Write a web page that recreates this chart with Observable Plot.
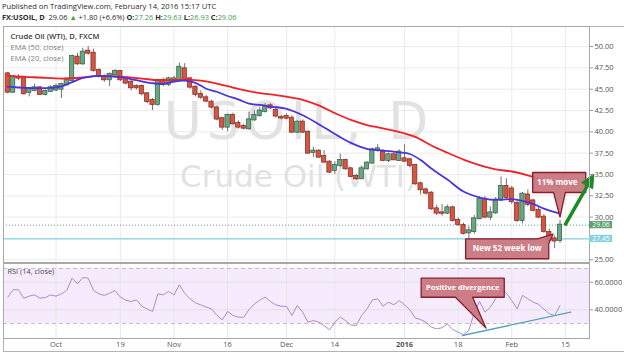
<!DOCTYPE html>
<html><head><meta charset="utf-8">
<script src="https://cdn.jsdelivr.net/npm/d3@7"></script>
<script src="https://cdn.jsdelivr.net/npm/@observablehq/plot@0.6"></script>
<style>
html,body{margin:0;padding:0;background:#fff}
body{width:624px;height:354px;position:relative;overflow:hidden;font-family:"Open Sans",sans-serif}
.hdr{position:absolute;left:2px;white-space:nowrap;color:#2b2b2b;line-height:1}
#h1{top:3px;font-size:7.6px}
#h2{top:14px;font-size:7.4px}
.g{color:#3aa14a}
.b{font-weight:700}
#outer{position:absolute;left:3px;top:26px;width:640px;height:326px;border:1px solid #b4b4b4;box-sizing:border-box}
#price{position:absolute;left:0;top:26px}
#rsi{position:absolute;left:0;top:262px}
</style></head><body>
<div id="h1" class="hdr"></div>
<div id="h2" class="hdr"></div>
<div id="outer"></div>
<div id="price"></div>
<div id="rsi"></div>
<script>
// ---------- header text ----------
const publishedText = "Published on TradingView.com, February 14, 2016 15:17 UTC";
const symbolText = "FX:USOIL, D";
const changeText = "+1.80 (+6.6%)";
const watermark = ["USOIL, D", "Crude Oil (WTI)"];
const legendText = ["Crude Oil (WTI), D, FXCM", "EMA (50, close)", "EMA (20, close)"];
const rsiLabel = "RSI (14, close)";

// ---------- daily bars (index 0 = Sep 18 2015 ... 103 = Feb 12 2016) ----------
const open = [46.80,44.65,46.35,46.41,44.60,44.85,45.16,44.38,44.73,44.90,
  45.00,45.51,46.02,48.76,47.97,49.46,49.22,47.19,46.49,46.10,
  46.68,47.07,46.10,45.82,45.32,45.32,44.46,43.67,43.21,46.02,
  45.55,46.02,46.10,47.39,46.21,45.24,44.40,43.99,43.48,42.80,
  41.53,40.55,41.92,41.00,40.63,40.35,41.40,41.92,42.40,43.05,
  42.50,41.66,41.80,41.60,39.96,41.14,39.96,37.58,37.74,37.10,
  36.45,35.47,36.06,36.64,35.66,34.77,34.49,35.66,36.33,37.81,
  37.62,36.64,37.31,36.64,36.84,36.72,36.06,33.91,33.20,32.81,
  30.97,30.50,30.47,31.09,29.60,29.02,28.15,28.30,29.80,32.10,
  30.00,30.50,32.00,33.60,33.30,31.60,29.60,32.60,31.90,30.80,
  30.00,28.20,27.45,27.26];
const high = [46.95,46.60,46.70,46.50,45.20,45.60,45.30,44.90,45.40,45.60,
  45.70,46.30,49.00,49.20,49.80,50.00,49.70,47.40,46.70,46.90,
  47.30,47.20,46.30,46.00,45.50,45.50,44.60,43.90,46.20,46.30,
  46.40,46.50,48.05,48.00,46.40,45.40,44.80,44.30,43.70,43.00,
  41.70,42.10,42.20,41.30,40.90,42.30,42.50,42.90,43.30,43.30,
  42.70,41.90,42.10,41.90,41.30,41.40,40.10,38.20,37.90,37.80,
  36.60,36.50,37.40,36.80,35.80,35.00,35.90,36.50,38.10,38.50,
  37.90,37.50,37.50,37.90,38.50,36.90,36.20,34.10,33.40,33.00,
  31.40,31.50,31.40,31.30,29.90,29.30,28.90,30.20,32.40,32.40,
  31.20,32.30,34.70,34.50,33.60,31.90,32.90,33.20,32.10,31.20,
  30.30,28.60,27.80,29.63];
const low = [44.45,44.50,46.00,44.30,44.10,44.70,44.30,44.20,44.60,44.70,
  43.90,45.40,45.90,47.80,47.80,49.00,47.00,46.30,45.80,45.30,
  46.50,45.90,45.50,44.80,44.90,44.20,43.30,42.50,43.00,45.30,
  45.30,45.80,45.90,45.90,45.00,44.10,43.80,43.40,42.70,41.30,
  40.16,40.00,40.80,40.30,40.20,40.20,41.20,41.70,42.20,42.60,
  41.60,41.40,41.40,39.80,39.80,39.80,37.40,37.00,36.90,36.30,
  35.10,35.00,35.80,35.50,34.60,34.30,34.40,35.50,36.20,37.60,
  36.50,36.40,36.60,36.50,36.40,35.80,33.70,32.60,32.60,30.80,
  30.20,30.10,30.30,29.40,28.90,27.90,27.45,28.00,29.70,29.80,
  29.60,30.30,31.80,32.10,31.50,29.40,29.20,31.20,30.60,29.80,
  28.10,27.00,26.30,26.93];
const close = [44.65,46.41,46.30,44.46,45.00,45.16,44.38,44.73,45.16,45.30,
  45.55,46.10,48.83,47.97,49.34,49.22,47.19,46.49,46.10,46.72,
  47.07,46.10,45.71,45.16,45.16,44.46,43.56,43.21,46.02,45.55,
  46.21,46.21,47.58,46.10,45.24,44.38,44.06,43.60,42.90,41.50,
  40.55,41.92,40.94,40.55,40.43,41.40,41.92,42.45,43.00,42.80,
  41.85,41.62,41.60,39.96,41.13,39.96,37.50,37.74,37.03,36.45,
  35.27,36.06,36.64,35.66,34.77,34.49,35.66,36.33,37.89,38.01,
  36.64,37.31,36.72,37.62,36.56,36.06,33.91,33.20,32.81,30.97,
  30.47,30.45,31.09,29.61,29.15,28.10,28.40,29.80,32.10,30.00,
  30.50,32.00,33.60,32.30,31.80,29.60,32.70,31.50,30.80,30.00,
  28.30,27.30,27.20,29.06];

// ---------- EMA lines ----------
const ema50Idx = [0,3,6,10,14,17,21,25,28,31,34,36,38,41,44,47,50,53,55,58,61,64,67,70,73,76,79,82,85,88,91,94,97,100,103];
const ema50Val = [46.60,46.45,46.37,46.25,46.37,46.55,46.48,46.25,46.05,46.10,46.10,46.00,45.80,45.35,44.90,44.55,44.30,44.00,43.75,43.10,42.20,41.40,40.80,40.40,39.98,39.40,38.40,37.55,36.75,36.10,35.60,35.35,34.90,34.30,33.60];
const ema20Idx = [0,2,5,8,10,12,14,16,18,21,24,27,29,31,33,35,37,39,41,43,45,47,49,52,55,58,61,64,67,70,73,75,77,79,82,85,88,90,92,94,96,98,100,103];
const ema20Val = [45.30,45.20,45.12,45.16,45.32,45.82,46.33,46.53,46.53,46.41,46.05,45.70,45.63,45.90,46.00,45.75,45.05,44.70,44.20,43.80,43.30,43.15,42.95,42.70,41.95,40.90,39.75,38.70,38.00,37.80,37.60,37.40,36.70,35.70,34.40,33.00,32.30,32.05,32.05,32.10,31.90,31.55,31.00,30.40];

// ---------- RSI (14) ----------
const rsi = [49.2,54.5,54.5,48.4,49.9,50.8,48.4,48.9,50.8,49.9,
  51.5,54.0,62.9,58.8,63.4,62.9,54.0,51.5,50.4,52.0,
  54.0,49.2,47.0,46.0,47.2,42.6,40.5,38.8,51.6,50.8,
  53.3,50.8,58.1,52.0,47.9,45.0,43.6,42.0,40.7,36.0,
  32.7,38.8,35.9,34.7,34.5,40.2,44.3,47.0,49.2,46.0,
  43.5,42.6,42.4,35.9,43.1,38.3,31.0,32.2,31.0,28.5,
  25.5,31.0,34.7,32.2,29.0,28.6,35.9,40.7,47.2,47.9,
  42.6,45.5,43.6,46.7,43.6,40.0,34.0,33.0,31.0,27.4,
  26.2,27.0,29.8,25.7,23.8,21.9,25.0,38.0,46.0,38.3,
  41.9,48.0,55.0,52.0,46.7,40.7,50.4,48.0,45.5,44.0,
  40.5,37.1,35.9,43.1];
const rsiBand = [30, 70];
const rsiTicks = [40, 60];

// ---------- axes ----------
const priceGrid = [25, 27.5, 30, 32.5, 35, 37.5, 40, 42.5, 45, 47.5, 50];
const priceTickLabels = [25, 30, 32.5, 35, 37.5, 40, 42.5, 45, 47.5, 50]; // 27.50 hidden behind the 27.45 tag
const tickIdx = [9, 21, 31, 41, 52, 61, 74, 84, 94, 104];
const tickLabel = ["Oct", "19", "Nov", "16", "Dec", "14", "2016", "18", "Feb", "15"];
const lowLevel = 27.45;

// ---------- annotations (bar index, price / RSI) ----------
const moveX = [97.9, 107.8, 107.8, 104.0, 103.0, 101.8, 97.9];
const moveY = [35.23, 35.23, 32.89, 32.89, 29.99, 32.89, 32.89];
const moveLabel = {x: 102.5, y: 34.06, text: "11% move"};
const lowX = [85.4, 98.8, 101.7, 100.9, 100.9, 85.4];
const lowY = [27.46, 27.46, 28.0, 26.9, 25.12, 25.12];
const lowLabel = {x: 93.15, y: 26.29, text: "New 52 week low"};
const divBoxX = [77.1, 92.6, 92.6, 86.7, 89.2, 83.5, 77.1];
const divBoxY = [62.9, 62.9, 49.1, 49.1, 26.7, 49.1, 49.1];
const divLabel = {x: 84.85, y: 56.0, text: "Positive divergence"};
const divLineX = [84.8, 105];
const divLineY = [21.4, 38.3];
const arrowShaft = [{x1: 103.9, y1: 29.02, x2: 108.1, y2: 33.67}];
const arrowHeadX = [109.3, 109.1, 107.1];
const arrowHeadY = [35.0, 33.32, 34.02];

// ---------- build ----------
const N = open.length;
const last = N - 1;
const pct = (v) => v.toFixed(2);
document.getElementById("h1").textContent = publishedText;
document.getElementById("h2").innerHTML =
  `<span class="b">${symbolText}</span>&nbsp; ${pct(close[last])} <span class="g">&#9650;</span> ${changeText} ` +
  `<span class="b">O:</span><span class="g">${pct(open[last])}</span> <span class="b">H:</span><span class="g">${pct(high[last])}</span> ` +
  `<span class="b">L:</span><span class="g">${pct(low[last])}</span> <span class="b">C:</span><span class="g">${pct(close[last])}</span>`;

const candles = open.map((o, i) => ({i, o, h: high[i], l: low[i], c: close[i]}));
const ema50 = ema50Idx.map((i, k) => ({i, v: ema50Val[k]}));
const ema20 = ema20Idx.map((i, k) => ({i, v: ema20Val[k]}));
const rsiData = rsi.map((v, i) => ({i, v}));
const moveShape = moveX.map((x, k) => ({x, y: moveY[k]}));
const lowShape = lowX.map((x, k) => ({x, y: lowY[k]}));
const divShape = divBoxX.map((x, k) => ({x, y: divBoxY[k]}));
const divLine = divLineX.map((x, k) => ({x, y: divLineY[k]}));
const headShape = arrowHeadX.map((x, k) => ({x, y: arrowHeadY[k]}));
const labelOf = new Map(tickIdx.map((t, k) => [t, tickLabel[k]]));

const UP = "#6ba583", DN = "#d75442", UPB = "#2b5e3f", DNB = "#7a2a1f", WICK = "#737375";
const CF = "#c8737d", CS = "#8a1c2e", ARROW = "#1d8a26";
const xDom = [-0.8, 108.5];
const tags = [{v: close[last], bg: "#5f9f73"}, {v: lowLevel, bg: "#86d2e4"}];
const font = "'Open Sans', sans-serif";

const pricePlot = Plot.plot({
  width: 624, height: 236,
  marginLeft: 3, marginRight: 35, marginTop: 0, marginBottom: 0,
  style: {background: "transparent", fontFamily: font, overflow: "visible"},
  x: {domain: xDom, axis: null},
  y: {domain: [24.68, 52.35], label: null},
  color: {type: "identity"},
  marks: [
    Plot.gridY(priceGrid, {stroke: "#ebebeb", strokeOpacity: 1}),
    Plot.gridX(tickIdx, {stroke: "#ebebeb", strokeOpacity: 1}),
    Plot.text([watermark[0]], {text: d => d, frameAnchor: "middle", dx: 2, dy: -22, fontSize: 52, fill: "#e2e2e2", fontFamily: "DejaVu Sans"}),
    Plot.text([watermark[1]], {text: d => d, frameAnchor: "middle", dx: 2, dy: 33, fontSize: 31, fill: "#e2e2e2", fontFamily: "DejaVu Sans"}),
    Plot.text([legendText[0]], {text: d => d, frameAnchor: "top-left", dx: 7, dy: 7, fontSize: 7.6, fontWeight: 600, fill: "#3a3a3a"}),
    Plot.text([legendText[1]], {text: d => d, frameAnchor: "top-left", dx: 7, dy: 18.5, fontSize: 7.6, fill: "#808080"}),
    Plot.text([legendText[2]], {text: d => d, frameAnchor: "top-left", dx: 7, dy: 29.5, fontSize: 7.6, fill: "#808080"}),
    Plot.ruleY([lowLevel], {stroke: "#86d2e4", strokeWidth: 1.3}),
    Plot.ruleY([close[last]], {stroke: "#6ba583", strokeDasharray: "1,2"}),
    Plot.ruleX(candles, {x: "i", y1: "l", y2: "h", stroke: WICK}),
    Plot.rect(candles, {x1: d => d.i - 0.4, x2: d => d.i + 0.4, y1: "o", y2: "c",
      fill: d => d.c >= d.o ? UP : DN, stroke: d => d.c >= d.o ? UPB : DNB, strokeWidth: 0.7,
      insetTop: -0.5, insetBottom: -0.5}),
    Plot.line(ema50, {x: "i", y: "v", stroke: "#ef2229", strokeWidth: 1.8, curve: "catmull-rom"}),
    Plot.line(ema20, {x: "i", y: "v", stroke: "#4a34de", strokeWidth: 1.8, curve: "catmull-rom"}),
    Plot.line(moveShape, {x: "x", y: "y", curve: "linear-closed", fill: CF, fillOpacity: 0.92, stroke: CS, strokeWidth: 1.3, strokeLinejoin: "round"}),
    Plot.text([moveLabel], {x: "x", y: "y", text: "text", fill: "white", fontWeight: "bold", fontSize: 8}),
    Plot.line(lowShape, {x: "x", y: "y", curve: "linear-closed", fill: CF, fillOpacity: 0.92, stroke: CS, strokeWidth: 1.3, strokeLinejoin: "round"}),
    Plot.text([lowLabel], {x: "x", y: "y", text: "text", fill: "white", fontWeight: "bold", fontSize: 8}),
    Plot.link(arrowShaft, {x1: "x1", y1: "y1", x2: "x2", y2: "y2", stroke: ARROW, strokeWidth: 3.5}),
    Plot.line(headShape, {x: "x", y: "y", curve: "linear-closed", fill: ARROW, stroke: ARROW, strokeWidth: 1, strokeLinejoin: "round"}),
    Plot.frame({stroke: "#a8a8a8"}),
    Plot.axisY(priceTickLabels, {anchor: "right", tickSize: 3, tickPadding: 2, tickFormat: d => d.toFixed(2), fontSize: 7.5, fill: "#555", stroke: "#999", label: null}),
    Plot.rect(tags, {x1: () => xDom[1], x2: () => xDom[1] + 4.3, y1: d => d.v - 0.42, y2: d => d.v + 0.42, fill: "bg"}),
    Plot.text(tags, {x: () => xDom[1] + 2.15, y: "v", text: d => d.v.toFixed(2), fill: "white", fontSize: 6.8})
  ]
});

const rsiPlot = Plot.plot({
  width: 624, height: 92,
  marginLeft: 3, marginRight: 35, marginTop: 1, marginBottom: 16,
  style: {background: "transparent", fontFamily: font, overflow: "visible"},
  x: {domain: xDom, label: null},
  y: {domain: [19.2, 73.55], label: null},
  color: {type: "identity"},
  marks: [
    Plot.rect([rsiBand], {x1: () => xDom[0], x2: () => xDom[1], y1: d => d[0], y2: d => d[1], fill: "#f5ebfc"}),
    Plot.gridX(tickIdx, {stroke: "#e6e6e6", strokeOpacity: 1}),
    Plot.gridY(rsiTicks, {stroke: "#e2e2e2", strokeOpacity: 1}),
    Plot.ruleY(rsiBand, {stroke: "#bdbdbd", strokeDasharray: "4,3"}),
    Plot.line(rsiData, {x: "i", y: "v", stroke: "#ad8bd0", strokeWidth: 1}),
    Plot.line(divLine, {x: "x", y: "y", stroke: "#5aa3b8", strokeWidth: 1.4}),
    Plot.line(divShape, {x: "x", y: "y", curve: "linear-closed", fill: CF, fillOpacity: 0.92, stroke: CS, strokeWidth: 1.3, strokeLinejoin: "round"}),
    Plot.text([divLabel], {x: "x", y: "y", text: "text", fill: "white", fontWeight: "bold", fontSize: 7.6}),
    Plot.text([rsiLabel], {text: d => d, frameAnchor: "top-left", dx: 4, dy: 5, fontSize: 7.4, fill: "#4a4a4a"}),
    Plot.frame({stroke: "#a8a8a8"}),
    Plot.axisY(rsiTicks, {anchor: "right", tickSize: 3, tickPadding: 2, tickFormat: d => d.toFixed(4), fontSize: 7.5, fill: "#555", stroke: "#999", label: null}),
    Plot.axisX(tickIdx, {anchor: "bottom", tickSize: 0, tickPadding: 3, tickFormat: d => labelOf.get(d), fontSize: 7.5, fill: "#555", label: null})
  ]
});

document.getElementById("price").appendChild(pricePlot);
document.getElementById("rsi").appendChild(rsiPlot);

d3.select(pricePlot).selectAll("text").filter(function () { return this.textContent === watermark[0]; }).style("letter-spacing", "5px");
d3.select(rsiPlot).selectAll("text").filter(function () { return this.textContent === "2016"; }).style("font-weight", "bold");
</script>
</body></html>
